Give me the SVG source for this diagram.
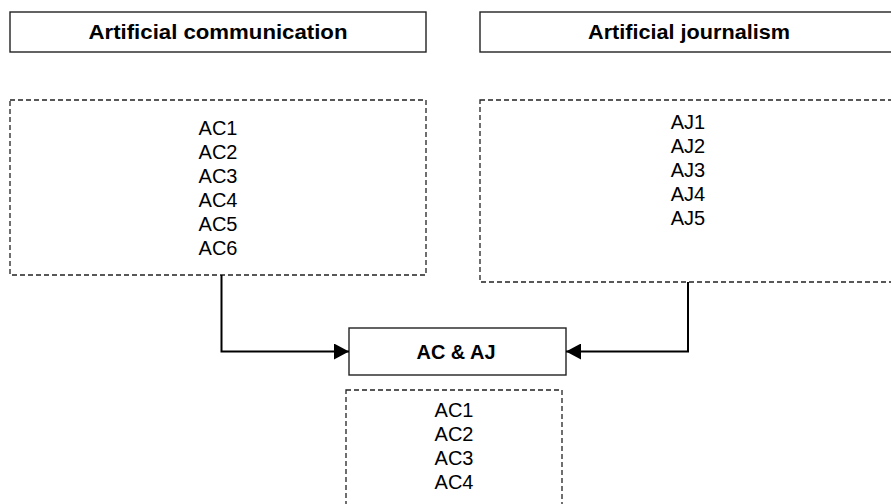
<svg xmlns="http://www.w3.org/2000/svg" width="891" height="504" viewBox="0 0 891 504">
<style>
.box{fill:#fff;stroke:#222;stroke-width:1.4}
.dash{fill:#fff;stroke:#222;stroke-width:1.3;stroke-dasharray:5 3}
.title{font-family:"Liberation Sans",Arial,sans-serif;font-weight:bold;font-size:19.5px;fill:#000;text-anchor:middle}
.item{font-family:"Liberation Sans",Arial,sans-serif;font-size:20px;fill:#000;text-anchor:middle}
.conn{fill:none;stroke:#000;stroke-width:2}
</style>
<defs>
<marker id="arr" markerUnits="userSpaceOnUse" markerWidth="16" markerHeight="16" refX="15" refY="8" orient="auto">
<path d="M0,0 L15,8 L0,16 Z" fill="#000"/>
</marker>
</defs>
<g id="ac-title">
<rect class="box" x="10" y="12" width="416" height="40"/>
<text class="title" x="218" y="38.5" textLength="259" lengthAdjust="spacingAndGlyphs">Artificial communication</text>
</g>
<g id="aj-title">
<rect class="box" x="480" y="12" width="416" height="40"/>
<text class="title" x="689" y="38.5" textLength="202" lengthAdjust="spacingAndGlyphs">Artificial journalism</text>
</g>
<g id="ac-list">
<rect class="dash" x="10" y="100" width="416" height="175"/>
<text class="item" x="218" y="135">AC1</text>
<text class="item" x="218" y="159">AC2</text>
<text class="item" x="218" y="183">AC3</text>
<text class="item" x="218" y="207">AC4</text>
<text class="item" x="218" y="231">AC5</text>
<text class="item" x="218" y="255">AC6</text>
</g>
<g id="aj-list">
<rect class="dash" x="480" y="100" width="416" height="182"/>
<text class="item" x="688" y="129">AJ1</text>
<text class="item" x="688" y="153">AJ2</text>
<text class="item" x="688" y="177">AJ3</text>
<text class="item" x="688" y="201">AJ4</text>
<text class="item" x="688" y="225">AJ5</text>
</g>
<g id="acaj">
<rect class="box" x="349" y="328" width="217" height="47"/>
<text class="title" x="456" y="359" textLength="79" lengthAdjust="spacingAndGlyphs">AC &amp; AJ</text>
</g>
<g id="acaj-list">
<rect class="dash" x="346" y="390" width="216" height="130"/>
<text class="item" x="454" y="417">AC1</text>
<text class="item" x="454" y="441">AC2</text>
<text class="item" x="454" y="465">AC3</text>
<text class="item" x="454" y="489">AC4</text>
</g>
<g id="connectors">
<path class="conn" d="M221.5,275 V351.5 H349" marker-end="url(#arr)"/>
<path class="conn" d="M688,282 V351.5 H566" marker-end="url(#arr)"/>
</g>
</svg>
